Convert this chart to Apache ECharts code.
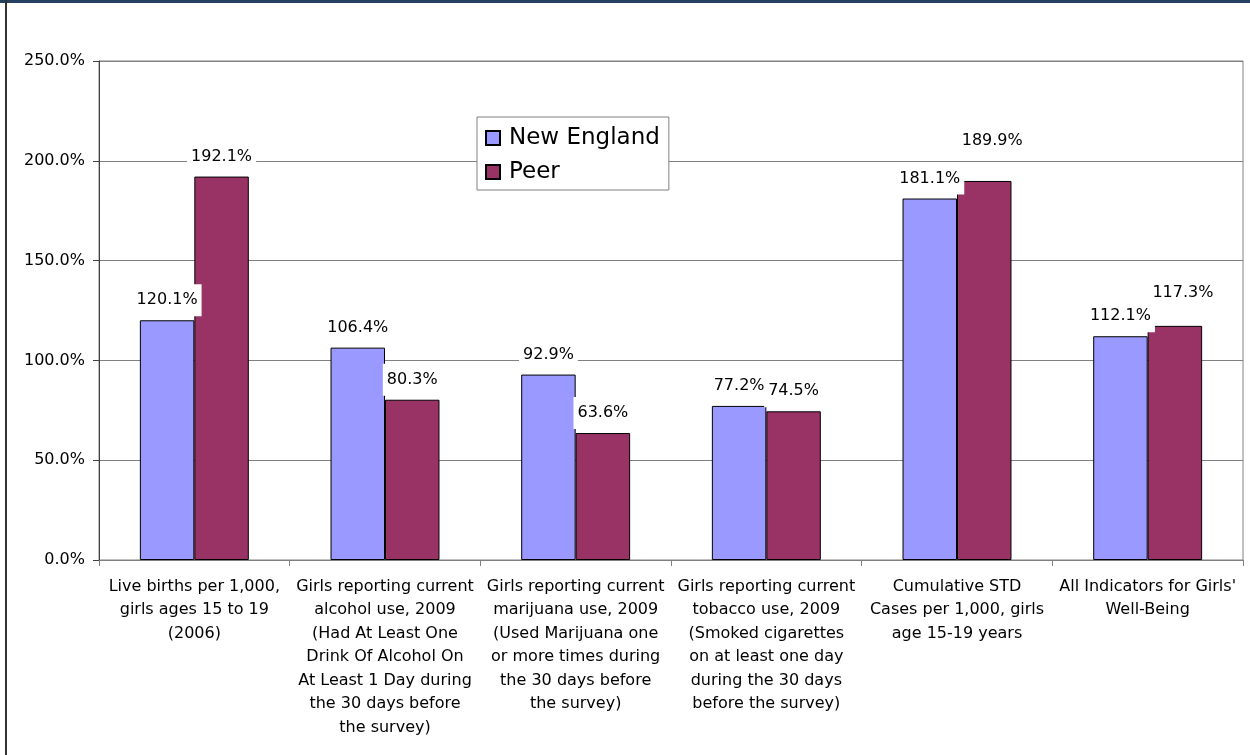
<!DOCTYPE html>
<html>
<head>
<meta charset="utf-8">
<title>Girls' Well-Being Indicators: New England vs Peer</title>
<script src="https://cdn.jsdelivr.net/npm/echarts@6/dist/echarts.min.js"></script>
<style>
  html, body { margin: 0; padding: 0; background: #fff; }
  #chart { width: 1250px; height: 755px; }
</style>
</head>
<body>
<div id="chart"></div>
<script>
// Indicator categories (line breaks as shown under each group)
const categories = [
  "Live births per 1,000,\ngirls ages 15 to 19\n(2006)",
  "Girls reporting current\nalcohol use, 2009\n(Had At Least One\nDrink Of Alcohol On\nAt Least 1 Day during\nthe 30 days before\nthe survey)",
  "Girls reporting current\nmarijuana use, 2009\n(Used Marijuana one\nor more times during\nthe 30 days before\nthe survey)",
  "Girls reporting current\ntobacco use, 2009\n(Smoked cigarettes\non at least one day\nduring the 30 days\nbefore the survey)",
  "Cumulative STD\nCases per 1,000, girls\nage 15-19 years",
  "All Indicators for Girls'\nWell-Being"
];

// Values in percent
const newEngland = [120.1, 106.4, 92.9, 77.2, 181.1, 112.1];
const peer = [192.1, 80.3, 63.6, 74.5, 189.9, 117.3];

const seriesNames = ["New England", "Peer"];

// Value axis range
const yMin = 0;
const yMax = 250;
const yStep = 50;

const FONT = "DejaVu Sans";

// Some labels were nudged so neighbouring labels do not collide
const peerLabelShift = { 4: [8, -20], 5: [8, -13] };

function pct(v) { return v.toFixed(1) + "%"; }

const labelStyle = {
  show: true,
  position: "top",
  distance: 4,
  formatter: p => pct(p.value),
  fontFamily: FONT,
  fontSize: 16,
  lineHeight: 18,
  color: "#000",
  backgroundColor: "#fff",
  padding: [7, 4]
};

const peerData = peer.map((v, i) => peerLabelShift[i]
  ? { value: v, label: { offset: peerLabelShift[i] } }
  : v);

const chart = echarts.init(document.getElementById("chart"), null, { renderer: "canvas" });

chart.setOption({
  animation: false,
  backgroundColor: "#fff",
  textStyle: { fontFamily: FONT },
  grid: {
    left: 99, right: 7, top: 61, bottom: 195,
    show: true,
    borderColor: "#808080",
    borderWidth: 1
  },
  legend: {
    data: seriesNames,
    orient: "vertical",
    left: 477,
    top: 117,
    icon: "rect",
    itemWidth: 14,
    itemHeight: 14,
    itemGap: 8,
    padding: [8, 9, 5, 8],
    backgroundColor: "#fff",
    borderColor: "#808080",
    borderWidth: 1,
    textStyle: {
      fontFamily: FONT,
      fontSize: 23,
      lineHeight: 26,
      color: "#000",
      padding: [0, 0, 0, 4]
    }
  },
  xAxis: {
    type: "category",
    data: categories,
    axisLine: { lineStyle: { color: "#808080", width: 1 } },
    axisTick: { show: true, length: 6, lineStyle: { color: "#808080" } },
    axisLabel: {
      interval: 0,
      margin: 15,
      fontFamily: FONT,
      fontSize: 16,
      lineHeight: 23.5,
      color: "#000",
      align: "center"
    },
    splitLine: { show: false }
  },
  yAxis: {
    type: "value",
    min: yMin,
    max: yMax,
    interval: yStep,
    axisLine: { show: true, lineStyle: { color: "#404040", width: 1 } },
    axisTick: { show: true, inside: false, length: 6, lineStyle: { color: "#404040" } },
    axisLabel: {
      formatter: v => pct(v),
      margin: 14,
      fontFamily: FONT,
      fontSize: 16,
      color: "#000"
    },
    splitLine: { show: true, lineStyle: { color: "#808080", width: 1 } }
  },
  series: [
    {
      name: seriesNames[0],
      type: "bar",
      data: newEngland,
      barGap: "0%",
      barCategoryGap: "42.86%",
      itemStyle: { color: "#9999FF", borderColor: "#000", borderWidth: 1 },
      label: labelStyle,
      z: 2
    },
    {
      name: seriesNames[1],
      type: "bar",
      data: peerData,
      barGap: "0%",
      barCategoryGap: "42.86%",
      itemStyle: { color: "#993366", borderColor: "#000", borderWidth: 1 },
      label: labelStyle,
      z: 2
    }
  ],
  graphic: [
    // page frame: navy band along the top, dark rule on the left
    { type: "rect", left: 0, top: 0, shape: { width: 1250, height: 3 },
      style: { fill: "#254061" }, silent: true, z: 100 },
    { type: "line", shape: { x1: 6, y1: 0, x2: 6, y2: 755 },
      style: { stroke: "#333", lineWidth: 2 }, silent: true, z: 100 }
  ]
});
</script>
</body>
</html>
